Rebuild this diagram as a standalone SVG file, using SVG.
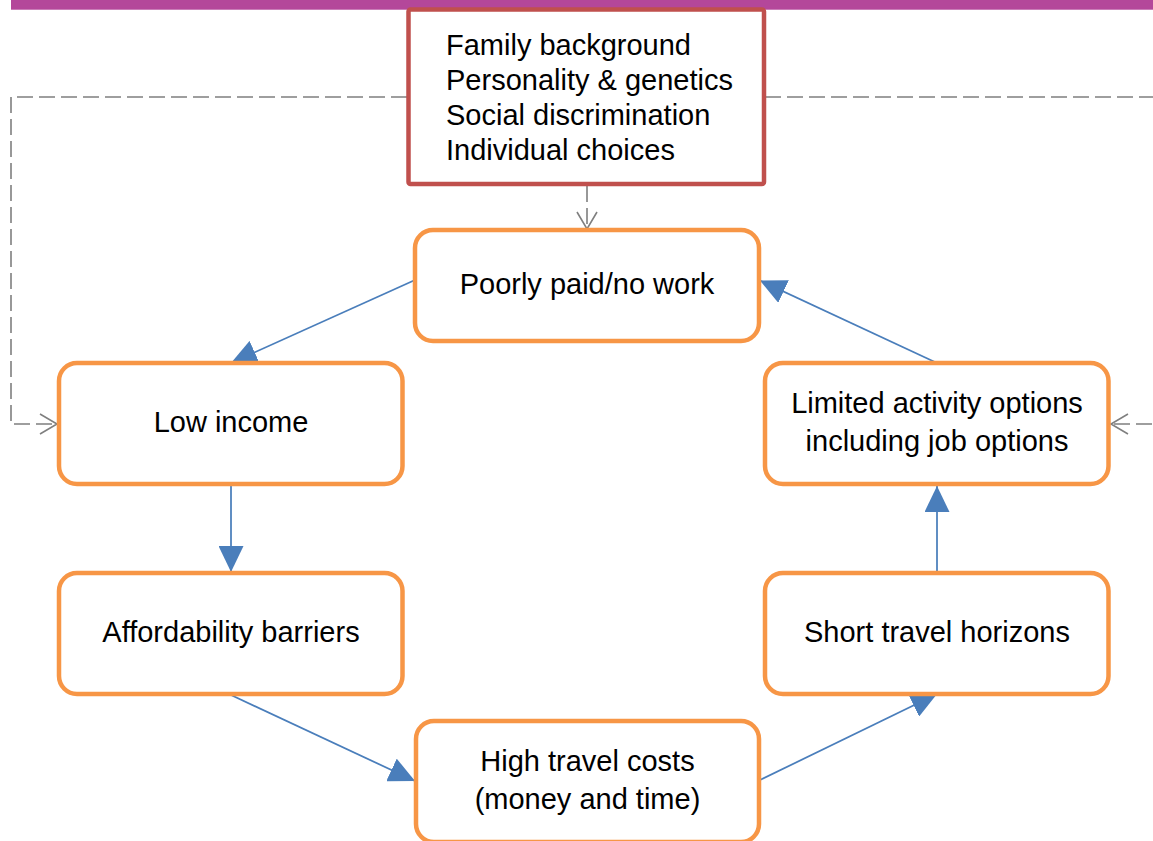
<svg xmlns="http://www.w3.org/2000/svg" width="1153" height="841" viewBox="0 0 1153 841">
<defs>
<style>
.node rect{fill:#fff;stroke:#f79646;stroke-width:4.5}
.t{font-family:"Liberation Sans",Arial,sans-serif;font-size:29px;fill:#000}
.c{text-anchor:middle}
.flow{fill:none;stroke:#4a7ebb;stroke-width:1.75;marker-end:url(#ah)}
.dash{fill:none;stroke:#7f7f7f;stroke-width:1.6;stroke-dasharray:16 6;marker-end:url(#oh)}
</style>
<marker id="ah" markerUnits="userSpaceOnUse" viewBox="0 0 26 25" markerWidth="26" markerHeight="25" refX="26" refY="12.5" orient="auto">
<path d="M0,0 L26,12.5 L0,25 z" fill="#4a7ebb"/>
</marker>
<marker id="oh" markerUnits="userSpaceOnUse" viewBox="0 0 20 24" markerWidth="20" markerHeight="24" refX="18" refY="12" orient="auto">
<path d="M1,2 L18,12 L1,22" fill="none" stroke="#7f7f7f" stroke-width="1.6" stroke-dasharray="none"/>
</marker>
</defs>
<rect x="11" y="0" width="1142" height="9.7" fill="#b4479a"/>
<g id="connectors">
<path class="dash" d="M407,97 H11 V424 H57"/>
<path class="dash" d="M765,97 H1180 V424 H1111"/>
<path class="dash" d="M587,186 V229"/>
<path class="flow" d="M415,280 L231,363"/>
<path class="flow" d="M231,485 V572"/>
<path class="flow" d="M231,695 L415,781"/>
<path class="flow" d="M760,780 L937,694"/>
<path class="flow" d="M937,572 V486"/>
<path class="flow" d="M937,363 L760,280.5"/>
</g>
<g id="factors">
<rect x="408.5" y="9.5" width="355.5" height="174.5" rx="2" fill="#fff" stroke="#c0504d" stroke-width="4.5"/>
<text class="t" x="446" y="55">Family background</text>
<text class="t" x="446" y="90">Personality &amp; genetics</text>
<text class="t" x="446" y="125">Social discrimination</text>
<text class="t" x="446" y="160">Individual choices</text>
</g>
<g id="poorly-paid" class="node">
<rect x="415" y="230" width="344" height="111" rx="18"/>
<text class="t c" x="587" y="293.5">Poorly paid/no work</text>
</g>
<g id="low-income" class="node">
<rect x="59" y="363" width="343.5" height="121" rx="18"/>
<text class="t c" x="231" y="432">Low income</text>
</g>
<g id="limited-options" class="node">
<rect x="765" y="363" width="343.5" height="121" rx="18"/>
<text class="t c" x="937" y="412.5">Limited activity options</text>
<text class="t c" x="937" y="451">including job options</text>
</g>
<g id="affordability" class="node">
<rect x="59" y="573" width="343.5" height="121" rx="18"/>
<text class="t c" x="231" y="642">Affordability barriers</text>
</g>
<g id="short-horizons" class="node">
<rect x="765" y="573" width="343.5" height="121" rx="18"/>
<text class="t c" x="937" y="642">Short travel horizons</text>
</g>
<g id="high-costs" class="node">
<rect x="416" y="721" width="343" height="121" rx="18"/>
<text class="t c" x="587.5" y="771">High travel costs</text>
<text class="t c" x="587.5" y="808.5">(money and time)</text>
</g>
</svg>
